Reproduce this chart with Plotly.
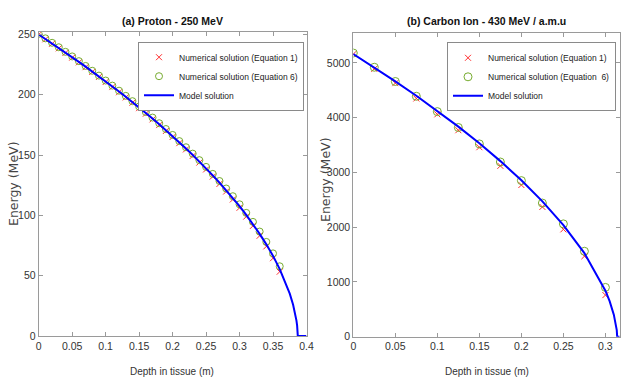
import plotly.graph_objects as go

# ---------------- data: (a) Proton 250 MeV ----------------
p_depth = [0.00, 0.01, 0.02, 0.03, 0.04, 0.05, 0.06, 0.07, 0.08, 0.09, 0.10, 0.11, 0.12,
           0.13, 0.14, 0.15, 0.16, 0.17, 0.18, 0.19, 0.20, 0.21, 0.22, 0.23, 0.24, 0.25,
           0.26, 0.27, 0.28, 0.29, 0.30, 0.31, 0.32, 0.33, 0.34, 0.35, 0.36]
p_eq1 = [250.0, 246.0, 242.3, 238.5, 234.7, 230.8, 226.9, 222.9, 218.9, 214.8, 210.6, 206.4,
         202.1, 197.8, 193.4, 188.9, 184.3, 179.6, 174.9, 170.0, 165.0, 159.9, 154.7, 149.3,
         143.8, 138.1, 132.2, 126.1, 119.8, 113.2, 106.3, 99.0, 91.3, 83.1, 74.3, 64.5, 53.3]
p_eq6 = [250.5, 246.8, 243.1, 239.4, 235.6, 231.8, 227.9, 223.9, 219.9, 215.9, 211.8, 207.6,
         203.4, 199.1, 194.7, 190.3, 185.7, 181.1, 176.4, 171.6, 166.7, 161.6, 156.5, 151.2,
         145.8, 140.2, 134.4, 128.5, 122.3, 115.9, 109.2, 102.1, 94.6, 86.6, 78.0, 68.5, 57.8]
p_model_depth = [0.00, 0.01, 0.02, 0.03, 0.04, 0.05, 0.06, 0.07, 0.08, 0.09, 0.10, 0.11, 0.12,
                 0.13, 0.14, 0.15, 0.16, 0.17, 0.18, 0.19, 0.20, 0.21, 0.22, 0.23, 0.24, 0.25,
                 0.26, 0.27, 0.28, 0.29, 0.30, 0.31, 0.32, 0.33, 0.34, 0.35, 0.36, 0.37, 0.375,
                 0.38, 0.383, 0.385, 0.386, 0.3865, 0.387, 0.40]
p_model_energy = [250.0, 246.3, 242.6, 238.9, 235.1, 231.2, 227.3, 223.3, 219.3, 215.3, 211.1,
                  207.0, 202.7, 198.4, 194.0, 189.5, 184.9, 180.3, 175.6, 170.7, 165.8, 160.7,
                  155.5, 150.2, 144.7, 139.0, 133.2, 127.2, 120.9, 114.4, 107.6, 100.4, 92.8,
                  84.7, 76.0, 66.4, 55.5, 42.7, 35.1, 25.9, 18.9, 12.8, 8.6, 5.8, 0.0, 0.0]
p_xticks = [0, 0.05, 0.1, 0.15, 0.2, 0.25, 0.3, 0.35, 0.4]
p_xtick_labels = ["0", "0.05", "0.1", "0.15", "0.2", "0.25", "0.3", "0.35", "0.4"]
p_yticks = [0, 50, 100, 150, 200, 250]

# ---------------- data: (b) Carbon ion 430 MeV/u ----------------
c_depth = [0.0, 0.025, 0.05, 0.075, 0.1, 0.125, 0.15, 0.175, 0.2, 0.225, 0.25, 0.275, 0.3]
c_eq1 = [5160, 4890, 4630, 4350, 4060, 3770, 3460, 3120, 2770, 2370, 1960, 1470, 760]
c_eq6 = [5180, 4920, 4660, 4390, 4110, 3820, 3520, 3190, 2850, 2440, 2060, 1560, 900]
c_model_depth = [0.0, 0.025, 0.05, 0.075, 0.1, 0.125, 0.15, 0.175, 0.2, 0.225, 0.25, 0.275,
                 0.3, 0.305, 0.31, 0.312, 0.313, 0.3135, 0.314, 0.317]
c_model_energy = [5160, 4916, 4663, 4400, 4125, 3836, 3531, 3206, 2855, 2471, 2038, 1526,
                  839, 648, 403, 269, 180, 120, 0, 0]
c_xticks = [0, 0.05, 0.1, 0.15, 0.2, 0.25, 0.3]
c_xtick_labels = ["0", "0.05", "0.1", "0.15", "0.2", "0.25", "0.3"]
c_yticks = [0, 1000, 2000, 3000, 4000, 5000]

names = ["Numerical solution (Equation 1)", "Numerical solution (Equation 6)", "Model solution"]
names_b = ["Numerical solution (Equation 1)", "Numerical solution (Equation  6)", "Model solution"]

RED = "#ff3030"
GREEN = "#77ac30"
BLUE = "#0000ff"
SANS = "Liberation Sans, Arial, sans-serif"

W, H = 622, 378


def px(X):
    return X / W


def py(Y):
    return 1 - Y / H


fig = go.Figure()

# left panel
fig.add_trace(go.Scatter(x=p_depth, y=p_eq1, mode="markers", name=names[0],
                         marker=dict(symbol="x-thin-open", size=6, color=RED, line=dict(width=1, color=RED)),
                         xaxis="x", yaxis="y", legend="legend"))
fig.add_trace(go.Scatter(x=p_depth, y=p_eq6, mode="markers", name=names[1],
                         marker=dict(symbol="circle-open", size=7, color=GREEN, line=dict(width=1, color=GREEN)),
                         xaxis="x", yaxis="y", legend="legend"))
fig.add_trace(go.Scatter(x=p_model_depth, y=p_model_energy, mode="lines", name=names[2],
                         line=dict(color=BLUE, width=2), xaxis="x", yaxis="y", legend="legend"))

# right panel
fig.add_trace(go.Scatter(x=c_depth, y=c_eq1, mode="markers", name=names_b[0],
                         marker=dict(symbol="x-thin-open", size=6, color=RED, line=dict(width=1, color=RED)),
                         xaxis="x2", yaxis="y2", legend="legend2"))
fig.add_trace(go.Scatter(x=c_depth, y=c_eq6, mode="markers", name=names_b[1],
                         marker=dict(symbol="circle-open", size=8, color=GREEN, line=dict(width=1, color=GREEN)),
                         xaxis="x2", yaxis="y2", legend="legend2"))
fig.add_trace(go.Scatter(x=c_model_depth, y=c_model_energy, mode="lines", name=names_b[2],
                         line=dict(color=BLUE, width=2), xaxis="x2", yaxis="y2", legend="legend2"))

axis_common = dict(showgrid=False, zeroline=False, showline=True, linecolor="#9a9a9a", linewidth=1,
                   mirror="allticks", ticks="inside", ticklen=4, tickcolor="#9a9a9a",
                   tickfont=dict(family=SANS, size=10.5, color="#333333"), automargin=False)

legend_common = dict(xanchor="right", yanchor="top", bgcolor="white",
                     bordercolor="#8a8a8a", borderwidth=1, itemwidth=30,
                     font=dict(family=SANS, size=8.5, color="#222222"), tracegroupgap=0)

fig.update_layout(
    width=W, height=H,
    margin=dict(l=0, r=0, t=0, b=0),
    paper_bgcolor="white", plot_bgcolor="white",
    showlegend=True,
    xaxis=dict(domain=[px(38.7), px(306.5)], range=[0, 0.4], tickvals=p_xticks, ticktext=p_xtick_labels,
               anchor="y", **axis_common),
    yaxis=dict(domain=[py(336), py(32.3)], range=[0, 251.8], tickvals=p_yticks, anchor="x", **axis_common),
    xaxis2=dict(domain=[px(353.3), px(619.7)], range=[0, 0.317], tickvals=c_xticks, ticktext=c_xtick_labels,
                anchor="y2", **axis_common),
    yaxis2=dict(domain=[py(336.7), py(33.3)], range=[0, 5540], tickvals=c_yticks, anchor="x2", **axis_common),
    legend=dict(x=px(304), y=py(41.7), **legend_common),
    legend2=dict(x=px(616), y=py(42.3), **legend_common),
    annotations=[
        dict(text="<b>(a) Proton - 250 MeV</b>", x=px(172.6), y=py(21), xref="paper", yref="paper",
             showarrow=False, xanchor="center", yanchor="middle",
             font=dict(family=SANS, size=10.5, color="#111111")),
        dict(text="<b>(b) Carbon Ion - 430 MeV / a.m.u</b>", x=px(487), y=py(21), xref="paper",
             yref="paper", showarrow=False, xanchor="center", yanchor="middle",
             font=dict(family=SANS, size=10.5, color="#111111")),
        dict(text="Depth in tissue (m)", x=px(172), y=py(371), xref="paper", yref="paper",
             showarrow=False, xanchor="center", yanchor="middle",
             font=dict(family=SANS, size=10, color="#333333")),
        dict(text="Depth in tissue (m)", x=px(487), y=py(371), xref="paper", yref="paper",
             showarrow=False, xanchor="center", yanchor="middle",
             font=dict(family=SANS, size=10, color="#333333")),
        dict(text="Energy (MeV)", x=px(13), y=py(184), xref="paper", yref="paper", textangle=-90,
             showarrow=False, xanchor="center", yanchor="middle",
             font=dict(family="DejaVu Sans, sans-serif", size=12.5, color="#444444")),
        dict(text="Energy (MeV)", x=px(325), y=py(180), xref="paper", yref="paper", textangle=-90,
             showarrow=False, xanchor="center", yanchor="middle",
             font=dict(family="DejaVu Sans, sans-serif", size=12.5, color="#444444")),
    ],
)

# remove the browser's default 8px body margin so the figure fills the window exactly
fig.write_html("out.html", config={"displayModeBar": False},
               post_script="document.body.style.margin='0';document.body.style.overflow='hidden';")
